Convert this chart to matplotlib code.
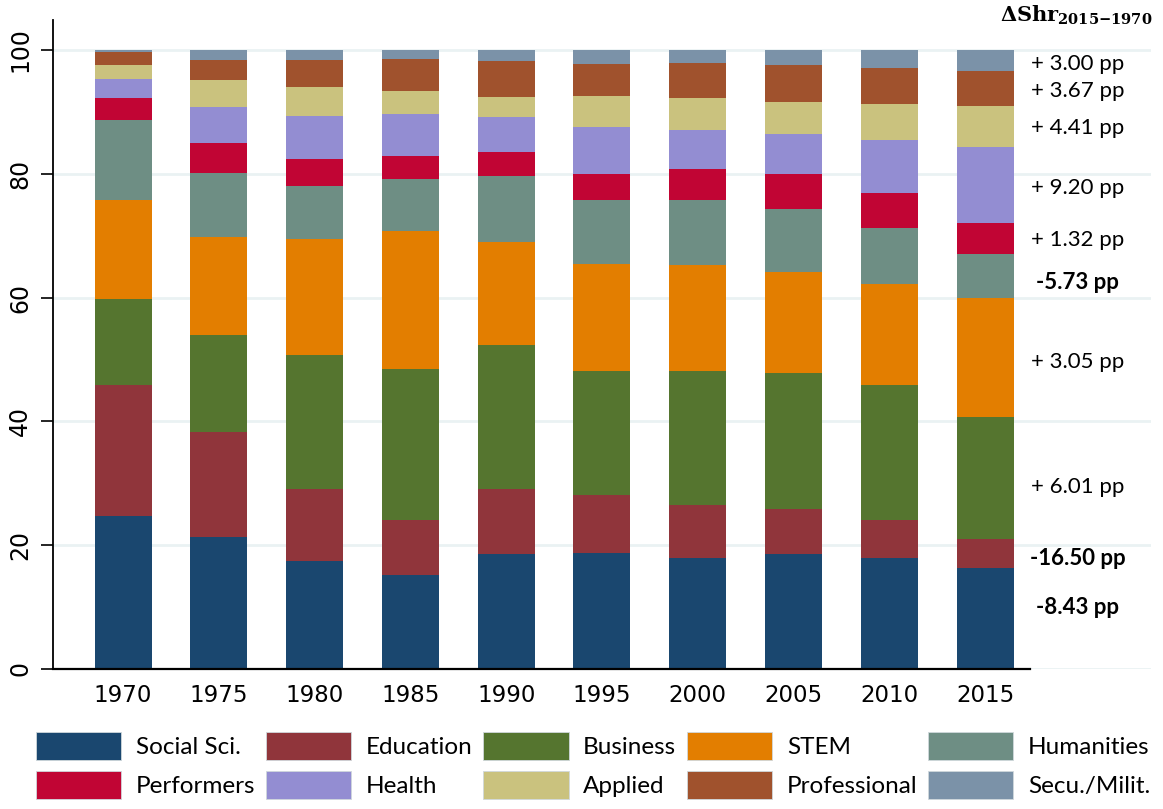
import numpy as np
import matplotlib
matplotlib.use("Agg")
import matplotlib.pyplot as plt
from matplotlib.patches import Patch

# shares of degrees by field (percent), stacked bottom to top
years = ["1970", "1975", "1980", "1985", "1990", "1995", "2000", "2005", "2010", "2015"]
fields = ["Social Sci.", "Education", "Business", "STEM", "Humanities",
          "Performers", "Health", "Applied", "Professional", "Secu./Milit."]

social = [24.70, 21.4, 17.4, 15.2, 18.6, 18.8, 18.0, 18.6, 17.9, 16.27]
education = [21.20, 16.9, 11.7, 8.9, 10.4, 9.3, 8.5, 7.3, 6.2, 4.70]
business = [13.80, 15.7, 21.7, 24.4, 23.4, 20.0, 21.7, 21.9, 21.8, 19.81]
stem = [16.15, 15.8, 18.6, 22.2, 16.6, 17.3, 17.1, 16.4, 16.3, 19.20]
humanities = [12.80, 10.4, 8.6, 8.5, 10.6, 10.3, 10.4, 10.1, 9.1, 7.07]
performers = [3.65, 4.7, 4.4, 3.7, 3.9, 4.3, 5.0, 5.7, 5.6, 4.97]
health = [3.05, 5.9, 6.9, 6.8, 5.6, 7.6, 6.3, 6.4, 8.6, 12.25]
applied = [2.30, 4.4, 4.8, 3.6, 3.3, 5.0, 5.2, 5.2, 5.7, 6.71]
professional = [1.95, 3.2, 4.3, 5.3, 5.9, 5.1, 5.7, 5.9, 5.9, 5.62]
secu = [0.40, 1.6, 1.6, 1.4, 1.7, 2.3, 2.1, 2.5, 2.9, 3.40]

series = [social, education, business, stem, humanities,
          performers, health, applied, professional, secu]

colors = ["#1a476f", "#90353b", "#55752f", "#e37e00", "#6e8e84",
          "#c10534", "#938dd2", "#cac27e", "#a0522d", "#7b92a8"]

# change in share 2015 vs 1970, in percentage points
changes = ["-8.43", "-16.50", "+ 6.01", "+ 3.05", "-5.73",
           "+ 1.32", "+ 9.20", "+ 4.41", "+ 3.67", "+ 3.00"]
change_y = [9.9, 17.9, 29.4, 49.6, 62.5, 69.3, 77.7, 87.4, 93.4, 97.7]

tick_font = ["Liberation Sans Narrow", "DejaVu Sans"]
text_font = ["Lato", "DejaVu Sans"]
plt.rcParams["mathtext.fontset"] = "dejavuserif"

fig = plt.figure(figsize=(11.63, 8.09), dpi=100)
ax = fig.add_axes([53 / 1163, 1 - 669 / 809, (1151 - 53) / 1163, (669 - 20) / 809])

x = np.arange(len(years))
bottom = np.zeros(len(years))
for vals, col in zip(series, colors):
    ax.bar(x, vals, width=0.595, bottom=bottom, color=col, zorder=2)
    bottom += np.array(vals)

ax.set_xlim(-0.731, 10.733)
ax.set_ylim(0, 104.85)
ax.set_yticks([0, 20, 40, 60, 80, 100])
ax.set_yticklabels(["0", "20", "40", "60", "80", "100"], rotation=90, va="center",
                   fontsize=17, family=tick_font)
ax.set_xticks(x)
ax.set_xticklabels(years, fontsize=16.5, family=tick_font)
ax.tick_params(axis="x", length=0, pad=11)
ax.tick_params(axis="y", length=9, width=1.2, pad=6)
ax.grid(axis="y", color="#eaf2f3", linewidth=2, zorder=0)
ax.set_axisbelow(True)

for s in ["top", "right"]:
    ax.spines[s].set_visible(False)
ax.spines["left"].set_linewidth(1.3)
ax.spines["bottom"].set_linewidth(1.6)
ax.spines["bottom"].set_bounds(-0.731, 9.47)

for txt, yv in zip(changes, change_y):
    bold = txt.startswith("-")
    ax.text(9.965, yv, txt + " pp", ha="center", va="center", fontsize=16,
            family=text_font, fontweight="bold" if bold else "normal")

ax.text(9.95, 105.6, r"$\mathbf{\Delta Shr_{2015{-}1970}}$", ha="center", va="center",
        fontsize=15, clip_on=False)

# legend filled row by row: reorder for matplotlib's column-first layout
handles = [Patch(facecolor=c, edgecolor="#d0d8dc", linewidth=0.6) for c in colors]
order = [0, 5, 1, 6, 2, 7, 3, 8, 4, 9]
fig.legend([handles[i] for i in order], [fields[i] for i in order],
           ncol=5, loc="upper left", bbox_to_anchor=(36 / 1163, 1 - 732 / 809),
           frameon=False, prop={"family": text_font, "size": 17.5},
           handlelength=3.5, handleheight=1.4, handletextpad=0.6,
           columnspacing=0.45, labelspacing=0.45, borderpad=0, borderaxespad=0)

fig.savefig("out.png", dpi=100)
